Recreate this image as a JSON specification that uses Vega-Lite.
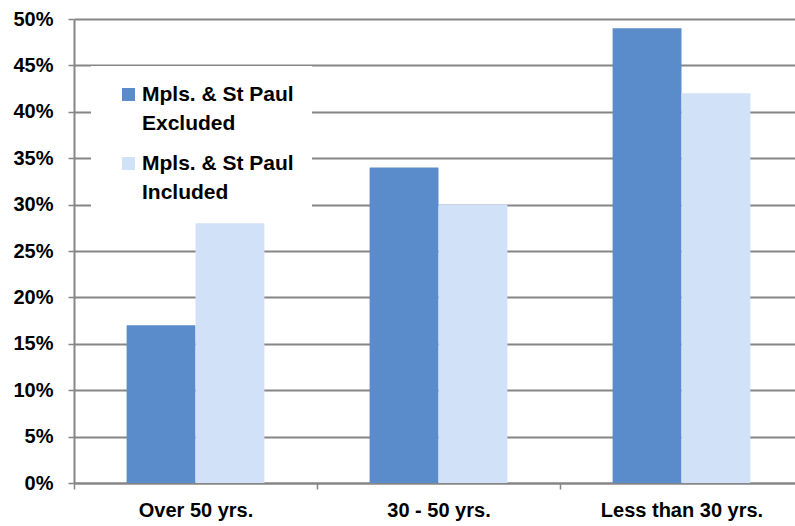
{
  "$schema": "https://vega.github.io/schema/vega-lite/v6.json",
  "width": 729,
  "height": 464,
  "autosize": {"type": "none"},
  "padding": {"left": 74, "top": 19, "right": 0, "bottom": 43},
  "background": "white",
  "config": {
    "view": {"stroke": null},
    "style": {"guide-label": {"lineHeight": 29}}
  },
  "data": {
    "values": [
      {"cat": "Over 50 yrs.", "series": "Excluded", "value": 0.17},
      {"cat": "Over 50 yrs.", "series": "Included", "value": 0.28},
      {"cat": "30 - 50 yrs.", "series": "Excluded", "value": 0.34},
      {"cat": "30 - 50 yrs.", "series": "Included", "value": 0.30},
      {"cat": "Less than 30 yrs.", "series": "Excluded", "value": 0.49},
      {"cat": "Less than 30 yrs.", "series": "Included", "value": 0.42}
    ]
  },
  "mark": {"type": "bar"},
  "encoding": {
    "x": {
      "field": "cat",
      "type": "nominal",
      "sort": null,
      "scale": {"paddingInner": 0.433, "paddingOuter": 0.2165},
      "axis": {
        "title": null,
        "labelAngle": 0,
        "domainColor": "#868686",
        "domainWidth": 2,
        "tickColor": "#868686",
        "tickWidth": 1.5,
        "tickSize": 6,
        "tickOffset": -121.6,
        "labelOffset": 121.6,
        "labelPadding": 11,
        "labelFont": "Liberation Sans",
        "labelFontSize": 20,
        "labelFontWeight": "bold",
        "labelColor": "black"
      }
    },
    "xOffset": {"field": "series", "type": "nominal"},
    "y": {
      "field": "value",
      "type": "quantitative",
      "scale": {"domain": [0, 0.5]},
      "axis": {
        "title": null,
        "format": ".0%",
        "values": [0, 0.05, 0.1, 0.15, 0.2, 0.25, 0.3, 0.35, 0.4, 0.45, 0.5],
        "grid": true,
        "gridColor": "#868686",
        "gridWidth": 2,
        "domainColor": "#868686",
        "domainWidth": 2,
        "tickColor": "#868686",
        "tickWidth": 1.5,
        "tickSize": 6,
        "labelPadding": 15,
        "labelFont": "Liberation Sans",
        "labelFontSize": 20,
        "labelFontWeight": "bold",
        "labelColor": "black"
      }
    },
    "color": {
      "field": "series",
      "type": "nominal",
      "scale": {"range": ["#5A8BCA", "#D0E1F8"]},
      "legend": {
        "title": null,
        "orient": "none",
        "legendX": 17,
        "legendY": 47,
        "fillColor": "white",
        "padding": 18,
        "symbolType": "square",
        "symbolSize": 169,
        "symbolStrokeWidth": 0,
        "symbolOffset": 9,
        "labelOffset": 3,
        "labelFont": "Liberation Sans",
        "labelFontSize": 21,
        "labelFontWeight": "bold",
        "labelColor": "black",
        "labelLimit": 0,
        "labelBaseline": "middle",
        "labelExpr": "['Mpls. & St Paul', datum.label]",
        "rowPadding": 18
      }
    }
  }
}
